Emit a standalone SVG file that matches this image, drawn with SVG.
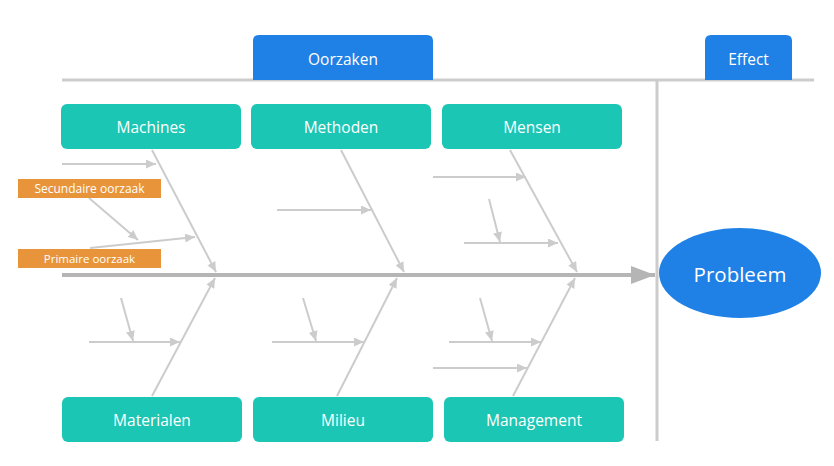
<svg xmlns="http://www.w3.org/2000/svg" width="834" height="466" viewBox="0 0 834 466">
<defs>
<style>
.lbl{font-family:"Open Sans","Noto Sans","Liberation Sans",sans-serif;fill:#ffffff;text-anchor:middle;dominant-baseline:central}
.cat{fill:#1bc6b4}
.hdr{fill:#1f80e6}
.sub{fill:#e8943a}
.bone{stroke:#cccccc;stroke-width:2;fill:none;marker-end:url(#ah)}
</style>
<marker id="ah" viewBox="0 0 10 10" refX="10" refY="5" markerWidth="10" markerHeight="9" markerUnits="userSpaceOnUse" orient="auto" preserveAspectRatio="none">
<path d="M0,0 L10,5 L0,10 z" fill="#cccccc"/>
</marker>
<marker id="bigah" viewBox="0 0 10 10" refX="10" refY="5" markerWidth="24" markerHeight="18" markerUnits="userSpaceOnUse" orient="auto" preserveAspectRatio="none">
<path d="M0,0 L10,5 L0,10 z" fill="#b5b5b5"/>
</marker>
</defs>
<g id="connectors">
<line x1="62" y1="80" x2="814" y2="80" stroke="#cccccc" stroke-width="3"/>
<line x1="657" y1="80" x2="657" y2="441" stroke="#cccccc" stroke-width="3"/>
<line x1="62" y1="275" x2="655" y2="275" stroke="#b5b5b5" stroke-width="4" marker-end="url(#bigah)"/>
<line class="bone" x1="152" y1="150" x2="216" y2="272"/>
<line class="bone" x1="341" y1="150" x2="404" y2="272"/>
<line class="bone" x1="510" y1="150" x2="577" y2="272"/>
<line class="bone" x1="152" y1="396" x2="215" y2="278"/>
<line class="bone" x1="337" y1="396" x2="397" y2="278"/>
<line class="bone" x1="513" y1="396" x2="575" y2="278"/>
<line class="bone" x1="62" y1="164" x2="156" y2="164"/>
<line class="bone" x1="90" y1="248" x2="195" y2="237"/>
<line class="bone" x1="89" y1="198" x2="138" y2="240"/>
<line class="bone" x1="277" y1="210" x2="371" y2="210"/>
<line class="bone" x1="433" y1="177" x2="526" y2="177"/>
<line class="bone" x1="489" y1="199" x2="500" y2="242"/>
<line class="bone" x1="464" y1="243" x2="558" y2="243"/>
<line class="bone" x1="121" y1="298" x2="133" y2="341"/>
<line class="bone" x1="89" y1="342" x2="180" y2="342"/>
<line class="bone" x1="303" y1="298" x2="316" y2="341"/>
<line class="bone" x1="272" y1="342" x2="364" y2="342"/>
<line class="bone" x1="480" y1="298" x2="492" y2="341"/>
<line class="bone" x1="449" y1="342" x2="541" y2="342"/>
<line class="bone" x1="433" y1="368" x2="527" y2="368"/>
</g>
<g id="oorzaken">
<path class="hdr" d="M253,80 V41 Q253,35 259,35 H427 Q433,35 433,41 V80 Z"/>
<text class="lbl" x="343" y="59" font-size="15.5">Oorzaken</text>
</g>
<g id="effect">
<path class="hdr" d="M705,80 V41 Q705,35 711,35 H786 Q792,35 792,41 V80 Z"/>
<text class="lbl" x="748.5" y="59" font-size="15.5">Effect</text>
</g>
<g id="machines">
<rect class="cat" x="61" y="104" width="180" height="45" rx="6"/>
<text class="lbl" x="151" y="127" font-size="15.5">Machines</text>
</g>
<g id="methoden">
<rect class="cat" x="251" y="104" width="180" height="45" rx="6"/>
<text class="lbl" x="341" y="127" font-size="15.5">Methoden</text>
</g>
<g id="mensen">
<rect class="cat" x="442" y="104" width="180" height="45" rx="6"/>
<text class="lbl" x="532" y="127" font-size="15.5">Mensen</text>
</g>
<g id="materialen">
<rect class="cat" x="62" y="397" width="180" height="45" rx="6"/>
<text class="lbl" x="152" y="420" font-size="15.5">Materialen</text>
</g>
<g id="milieu">
<rect class="cat" x="253" y="397" width="180" height="45" rx="6"/>
<text class="lbl" x="343" y="420" font-size="15.5">Milieu</text>
</g>
<g id="management">
<rect class="cat" x="444" y="397" width="180" height="45" rx="6"/>
<text class="lbl" x="534" y="420" font-size="15.5">Management</text>
</g>
<g id="secundaire">
<rect class="sub" x="18" y="179" width="143" height="19"/>
<text class="lbl" x="89.5" y="188.5" font-size="12">Secundaire oorzaak</text>
</g>
<g id="primaire">
<rect class="sub" x="18" y="249" width="143" height="19"/>
<text class="lbl" x="89.5" y="258.5" font-size="11.5">Primaire oorzaak</text>
</g>
<g id="probleem">
<ellipse cx="740" cy="273" rx="81" ry="45" fill="#1f80e6"/>
<text class="lbl" x="740" y="274" font-size="20.5">Probleem</text>
</g>
</svg>
